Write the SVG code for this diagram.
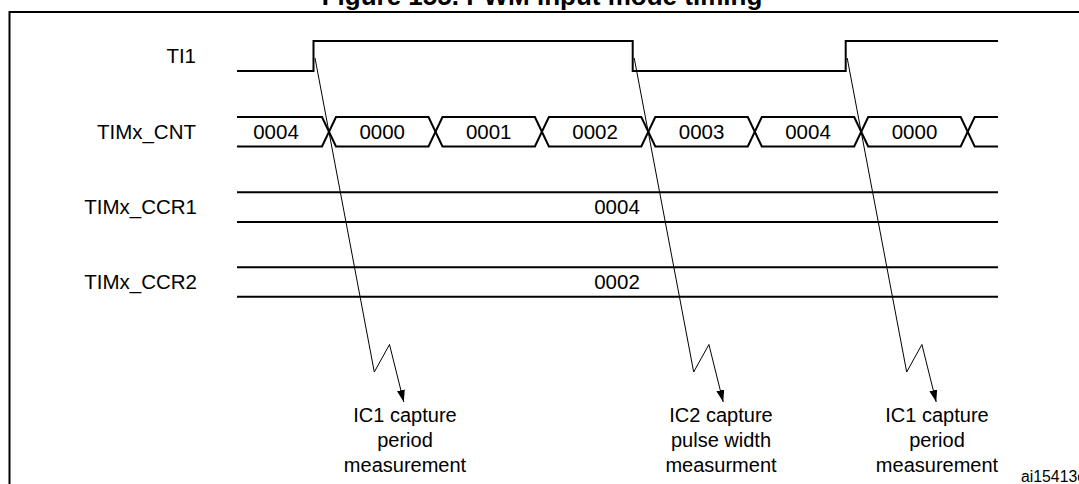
<svg xmlns="http://www.w3.org/2000/svg" width="1079" height="484" viewBox="0 0 1079 484">
<defs>
<style>
.sig{fill:none;stroke:#000;stroke-width:2;stroke-linejoin:miter}
.con{fill:none;stroke:#000;stroke-width:1}
.lbl{font-family:"Liberation Sans",Arial,sans-serif;font-size:20.5px;fill:#000}
.val{font-family:"Liberation Sans",Arial,sans-serif;font-size:20.5px;fill:#000;text-anchor:middle}
.cap{font-family:"Liberation Sans",Arial,sans-serif;font-size:20px;fill:#000;text-anchor:middle}
</style>
<marker id="arr" viewBox="0 0 12 8" refX="12" refY="4" markerWidth="12" markerHeight="8" markerUnits="userSpaceOnUse" orient="auto">
<path d="M0,0 L12,4 L0,8 Z" fill="#000"/>
</marker>
</defs>
<rect width="1079" height="484" fill="#fff"/>
<text x="542" y="5" font-family="'Liberation Sans',Arial,sans-serif" font-size="26" font-weight="bold" text-anchor="middle">Figure 155. PWM input mode timing</text>
<path d="M9.5,484 V12 H1079" fill="none" stroke="#000" stroke-width="2"/>

<g id="TI1">
<text class="lbl" x="196" y="63" text-anchor="end">TI1</text>
<path class="sig" d="M237,71 H313.5 V41 H632.7 V71 H845.7 V41 H998"/>
</g>

<g id="TIMx_CNT">
<text class="lbl" x="196" y="138.5" text-anchor="end">TIMx_CNT</text>
<path class="sig" d="M237,117 H322 L336,146.5 H428.5 L442.5,117 H534.9 L548.9,146.5 H641.3 L655.3,117 H747.8 L761.8,146.5 H854.2 L868.2,117 H960.7 L974.7,146.5 H998"/>
<path class="sig" d="M237,146.5 H322 L336,117 H428.5 L442.5,146.5 H534.9 L548.9,117 H641.3 L655.3,146.5 H747.8 L761.8,117 H854.2 L868.2,146.5 H960.7 L974.7,117 H998"/>
<text class="val" x="276" y="138.5">0004</text>
<text class="val" x="382.2" y="138.5">0000</text>
<text class="val" x="488.7" y="138.5">0001</text>
<text class="val" x="595.1" y="138.5">0002</text>
<text class="val" x="701.6" y="138.5">0003</text>
<text class="val" x="808" y="138.5">0004</text>
<text class="val" x="914.5" y="138.5">0000</text>
</g>

<g id="TIMx_CCR1">
<text class="lbl" x="197" y="213.5" text-anchor="end">TIMx_CCR1</text>
<path class="sig" d="M237,192.3 H998 M237,222 H998"/>
<text class="val" x="617" y="214.3">0004</text>
</g>

<g id="TIMx_CCR2">
<text class="lbl" x="197" y="288.5" text-anchor="end">TIMx_CCR2</text>
<path class="sig" d="M237,267.3 H998 M237,296.8 H998"/>
<text class="val" x="617" y="289">0002</text>
</g>

<g id="connectors">
<path class="con" marker-end="url(#arr)" d="M315,58 L374.3,372 L389.5,344.5 L403.8,402"/>
<path class="con" marker-end="url(#arr)" d="M634.2,58 L693.7,372 L708.9,344.5 L723.2,402"/>
<path class="con" marker-end="url(#arr)" d="M847.2,58 L906.7,372 L921.9,344.5 L936.2,402"/>
</g>

<g id="cap1">
<text class="cap" x="405" y="421.5">IC1 capture</text>
<text class="cap" x="405" y="447">period</text>
<text class="cap" x="405" y="472">measurement</text>
</g>
<g id="cap2">
<text class="cap" x="721" y="421.5">IC2 capture</text>
<text class="cap" x="721" y="447">pulse width</text>
<text class="cap" x="721" y="472">measurment</text>
</g>
<g id="cap3">
<text class="cap" x="937" y="421.5">IC1 capture</text>
<text class="cap" x="937" y="447">period</text>
<text class="cap" x="937" y="472">measurement</text>
</g>
<text x="1021" y="482" font-family="'Liberation Sans',Arial,sans-serif" font-size="15.8">ai15413c</text>
</svg>
